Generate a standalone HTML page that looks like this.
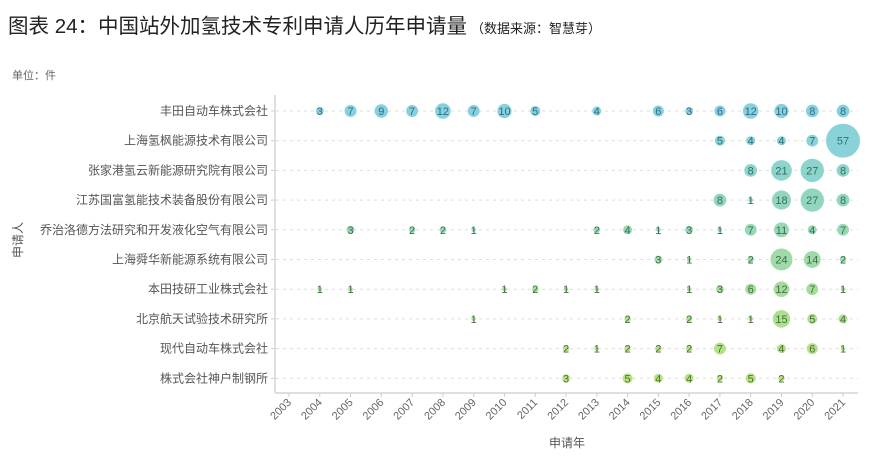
<!DOCTYPE html>
<html><head><meta charset="utf-8"><style>
body{margin:0;background:#fff;}
svg{display:block;font-family:"Liberation Sans","Noto Sans CJK SC",sans-serif;}
</style></head><body>
<svg id="s" width="873" height="457" xmlns="http://www.w3.org/2000/svg">
<text x="8" y="33" font-size="20.5" fill="#222">图表 24：中国站外加氢技术专利申请人历年申请量<tspan font-size="13" dx="4">（数据来源：智慧芽）</tspan></text>
<text x="12" y="79" font-size="11" fill="#666">单位：件</text>
<text transform="translate(22,240) rotate(-90)" font-size="12" fill="#555" text-anchor="middle">申请人</text>
<text x="567" y="447" font-size="12" fill="#555" text-anchor="middle">申请年</text>
<line x1="275" y1="95" x2="275" y2="393" stroke="#ccc" stroke-width="1.2"/>
<line x1="275" y1="393" x2="858" y2="393" stroke="#ccc" stroke-width="1.2"/>
<g id="g"></g>
</svg>
<script>
var names=["丰田自动车株式会社","上海氢枫能源技术有限公司","张家港氢云新能源研究院有限公司","江苏国富氢能技术装备股份有限公司","乔治洛德方法研究和开发液化空气有限公司","上海舜华新能源系统有限公司","本田技研工业株式会社","北京航天试验技术研究所","现代自动车株式会社","株式会社神户制钢所"];
var data=[
{2004:3,2005:7,2006:9,2007:7,2008:12,2009:7,2010:10,2011:5,2013:4,2015:6,2016:3,2017:6,2018:12,2019:10,2020:8,2021:8},
{2017:5,2018:4,2019:4,2020:7,2021:57},
{2018:8,2019:21,2020:27,2021:8},
{2017:8,2018:1,2019:18,2020:27,2021:8},
{2005:3,2007:2,2008:2,2009:1,2013:2,2014:4,2015:1,2016:3,2017:1,2018:7,2019:11,2020:4,2021:7},
{2015:3,2016:1,2018:2,2019:24,2020:14,2021:2},
{2004:1,2005:1,2010:1,2011:2,2012:1,2013:1,2016:1,2017:3,2018:6,2019:12,2020:7,2021:1},
{2009:1,2014:2,2016:2,2017:1,2018:1,2019:15,2020:5,2021:4},
{2012:2,2013:1,2014:2,2015:2,2016:2,2017:7,2019:4,2020:6,2021:1},
{2012:3,2014:5,2015:4,2016:4,2017:2,2018:5,2019:2}];
var cols=["#86d0df","#88d2d8","#8cd4cc","#92d6c0","#98d8b4","#9fdaa8","#a6dc9c","#addf92","#b3e18a","#b8e383"];
var tcols=["#2f6f80","#306f78","#33705f","#36705a","#3a6f52","#3d6e4a","#426e42","#476e3c","#4c6d36","#516d30"];
var h='';
function X(y){return 289+(y-2003)*30.78;}
for(var i=0;i<10;i++){var y=111+i*29.7;
h+='<line x1="276" y1="'+y+'" x2="858" y2="'+y+'" stroke="#ddd" stroke-dasharray="3,4"/>';
h+='<line x1="271" y1="'+y+'" x2="275" y2="'+y+'" stroke="#ccc"/>';
h+='<text x="268" y="'+(y+4)+'" font-size="12" fill="#555" text-anchor="end">'+names[i]+'</text>';
for(var k in data[i]){var v=data[i][k],x=X(+k),r=2.25*Math.sqrt(v);
h+='<circle cx="'+x+'" cy="'+y+'" r="'+r+'" fill="'+cols[i]+'"/>';
h+='<text x="'+x+'" y="'+(y+4)+'" font-size="11" fill="'+tcols[i]+'" text-anchor="middle">'+v+'</text>';}}
for(var yr=2003;yr<=2021;yr++){var x=X(yr);
h+='<line x1="'+x+'" y1="393" x2="'+x+'" y2="397" stroke="#ccc"/>';
h+='<text transform="translate('+(x+3)+',403) rotate(-45)" font-size="11" fill="#666" text-anchor="end">'+yr+'</text>';}
document.getElementById('g').innerHTML=h;
</script>
</body></html>
